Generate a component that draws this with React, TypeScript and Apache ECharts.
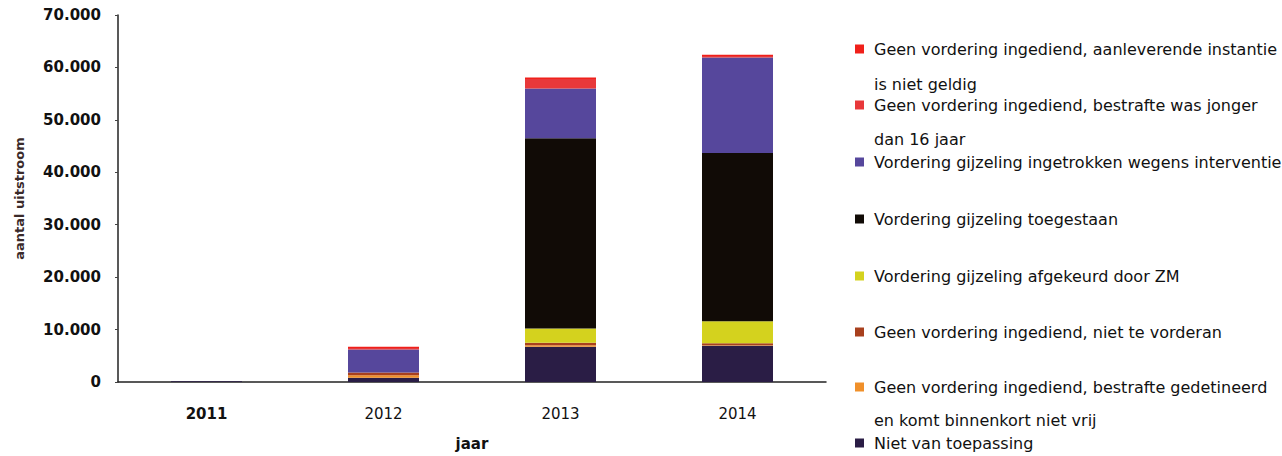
import React, { useEffect, useRef } from "react";
import * as echarts from "echarts";

const categories = ["2011", "2012", "2013", "2014"];
const boldCategories = ["2011"];
const yTicks = { min: 0, max: 70000, interval: 10000 };

const seriesNames = [
  "Geen vordering ingediend, aanleverende instantie is niet geldig",
  "Geen vordering ingediend, bestrafte was jonger dan 16 jaar",
  "Vordering gijzeling ingetrokken wegens interventie",
  "Vordering gijzeling toegestaan",
  "Vordering gijzeling afgekeurd door ZM",
  "Geen vordering ingediend, niet te vorderan",
  "Geen vordering ingediend, bestrafte gedetineerd en komt binnenkort niet vrij",
  "Niet van toepassing",
];
// first/second display lines of each legend entry
const legendLines = [
  ["Geen vordering ingediend, aanleverende instantie", "is niet geldig"],
  ["Geen vordering ingediend, bestrafte was jonger", "dan 16 jaar"],
  ["Vordering gijzeling ingetrokken wegens interventie", ""],
  ["Vordering gijzeling toegestaan", ""],
  ["Vordering gijzeling afgekeurd door ZM", ""],
  ["Geen vordering ingediend, niet te vorderan", ""],
  ["Geen vordering ingediend, bestrafte gedetineerd", "en komt binnenkort niet vrij"],
  ["Niet van toepassing", ""],
];

const aanleverende = [0, 200, 300, 200];
const jonger = [0, 300, 1800, 300];
const ingetrokken = [0, 4400, 9500, 18200];
const toegestaan = [0, 0, 36300, 32100];
const afgekeurd = [0, 0, 2700, 4200];
const nietTeVorderen = [0, 500, 500, 400];
const gedetineerd = [0, 500, 300, 100];
const nietVanToepassing = [150, 800, 6700, 6900];

const seriesValues = [
  aanleverende,
  jonger,
  ingetrokken,
  toegestaan,
  afgekeurd,
  nietTeVorderen,
  gedetineerd,
  nietVanToepassing,
];
const colors = [
  "#f0201a",
  "#e8383a",
  "#56479c",
  "#110b06",
  "#d4d21e",
  "#a8401e",
  "#f0902a",
  "#2a1d45",
];

const legendFirstY = [50, 106, 163, 220, 277, 333, 388, 444];
const legendSecondY = [84, 139, 0, 0, 0, 0, 420, 0];

const fmt = (v: number) => String(v).replace(/\B(?=(\d{3})+(?!\d))/g, ".");

export default function App() {
  const ref = useRef<HTMLDivElement>(null);
  useEffect(() => {
    if (!ref.current) return;
    const chart = echarts.init(ref.current, null, { renderer: "svg" });
    const font = "DejaVu Sans";
    // stack order bottom→top is reverse of legend order
    const order = [7, 6, 5, 4, 3, 2, 1, 0];
    const series = order.map((i) => ({
      name: seriesNames[i],
      type: "bar",
      stack: "total",
      barWidth: 71,
      data: seriesValues[i],
      itemStyle: { color: colors[i] },
      emphasis: { disabled: true },
    }));
    const legends = seriesNames.map((n, i) => ({
      left: 855,
      top: legendFirstY[i] - 9,
      padding: 0,
      icon: "rect",
      itemWidth: 9,
      itemHeight: 9,
      data: [n],
      selectedMode: false,
      formatter: () => legendLines[i][0],
      textStyle: {
        fontFamily: font,
        fontSize: 16,
        color: "#111",
        padding: [0, 0, 0, 5],
      },
    }));
    const graphics = legendLines
      .map((l, i) => ({ l, i }))
      .filter(({ l }) => l[1])
      .map(({ l, i }) => ({
        type: "text",
        x: 874,
        y: legendSecondY[i],
        style: {
          text: l[1],
          font: `16px "${font}"`,
          fill: "#111",
          verticalAlign: "middle",
        },
      }));
    chart.setOption({
      animation: false,
      backgroundColor: "#ffffff",
      color: colors,
      grid: { left: 118, right: 456, top: 15, bottom: 74 },
      legend: legends,
      graphic: graphics,
      xAxis: {
        type: "category",
        data: categories.map((c) =>
          boldCategories.includes(c)
            ? { value: c, textStyle: { fontWeight: "bold" } }
            : c
        ),
        name: "jaar",
        nameLocation: "middle",
        nameGap: 54,
        nameTextStyle: {
          fontFamily: font,
          fontSize: 15,
          fontWeight: "bold",
          color: "#111",
        },
        axisLine: { lineStyle: { color: "#222", width: 1.5 } },
        axisTick: { show: false },
        axisLabel: {
          fontFamily: font,
          fontSize: 15,
          color: "#111",
          margin: 24,
        },
      },
      yAxis: {
        type: "value",
        min: yTicks.min,
        max: yTicks.max,
        interval: yTicks.interval,
        name: "aantal uitstroom",
        nameLocation: "middle",
        nameGap: 92,
        nameTextStyle: {
          fontFamily: font,
          fontSize: 13,
          fontWeight: "bold",
          color: "#3a2a2a",
        },
        axisLine: { show: true, lineStyle: { color: "#222", width: 1.5 } },
        axisTick: { show: true, length: 3, lineStyle: { color: "#444" } },
        splitLine: { show: false },
        axisLabel: {
          fontFamily: font,
          fontSize: 15,
          fontWeight: "bold",
          color: "#111",
          margin: 17,
          formatter: fmt,
        },
      },
      series,
    });
    return () => chart.dispose();
  }, []);
  return (
    <div
      ref={ref}
      style={{ position: "absolute", left: 0, top: 0, width: 1282, height: 456 }}
    />
  );
}
